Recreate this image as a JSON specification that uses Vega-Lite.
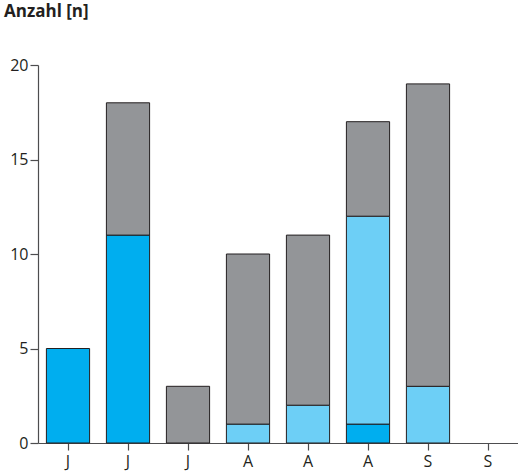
{
  "$schema": "https://vega.github.io/schema/vega-lite/v6.json",
  "autosize": "none",
  "width": 480,
  "height": 378,
  "padding": {"left": 38, "top": 65, "right": 0, "bottom": 31},
  "background": "white",
  "title": {
    "text": "Anzahl [n]",
    "anchor": "start",
    "frame": "group",
    "font": "Open Sans",
    "fontSize": 17,
    "fontWeight": "bold",
    "color": "#231f20",
    "dx": -34,
    "offset": 36
  },
  "config": {
    "view": {"stroke": null},
    "axis": {
      "labelFont": "Open Sans",
      "labelFontSize": 16,
      "labelColor": "#231f20",
      "domainColor": "#4d4d4f",
      "tickColor": "#4d4d4f",
      "domainWidth": 1.2,
      "tickWidth": 1.2,
      "grid": false,
      "title": null
    }
  },
  "data": {
    "values": [
      {"month": "m1", "cat": "dark", "value": 5, "ord": 1},
      {"month": "m2", "cat": "dark", "value": 11, "ord": 1},
      {"month": "m2", "cat": "gray", "value": 7, "ord": 3},
      {"month": "m3", "cat": "gray", "value": 3, "ord": 3},
      {"month": "m4", "cat": "light", "value": 1, "ord": 2},
      {"month": "m4", "cat": "gray", "value": 9, "ord": 3},
      {"month": "m5", "cat": "light", "value": 2, "ord": 2},
      {"month": "m5", "cat": "gray", "value": 9, "ord": 3},
      {"month": "m6", "cat": "dark", "value": 1, "ord": 1},
      {"month": "m6", "cat": "light", "value": 11, "ord": 2},
      {"month": "m6", "cat": "gray", "value": 5, "ord": 3},
      {"month": "m7", "cat": "light", "value": 3, "ord": 2},
      {"month": "m7", "cat": "gray", "value": 16, "ord": 3}
    ]
  },
  "mark": {"type": "bar", "stroke": "#231f20", "strokeWidth": 1},
  "encoding": {
    "x": {
      "field": "month",
      "type": "nominal",
      "scale": {
        "domain": ["m1", "m2", "m3", "m4", "m5", "m6", "m7", "m8"],
        "paddingInner": 0.28,
        "paddingOuter": 0.14
      },
      "axis": {
        "labelAngle": 0,
        "labelExpr": "{'m1':'J','m2':'J','m3':'J','m4':'A','m5':'A','m6':'A','m7':'S','m8':'S'}[datum.value]",
        "tickSize": 7,
        "labelPadding": 3
      }
    },
    "y": {
      "field": "value",
      "type": "quantitative",
      "stack": "zero",
      "scale": {"domain": [0, 20]},
      "axis": {"values": [0, 5, 10, 15, 20], "tickSize": 8, "labelPadding": 2}
    },
    "color": {
      "field": "cat",
      "type": "nominal",
      "scale": {
        "domain": ["dark", "light", "gray"],
        "range": ["#00aeef", "#6dcff6", "#939598"]
      },
      "legend": null
    },
    "order": {"field": "ord", "type": "quantitative"}
  }
}
